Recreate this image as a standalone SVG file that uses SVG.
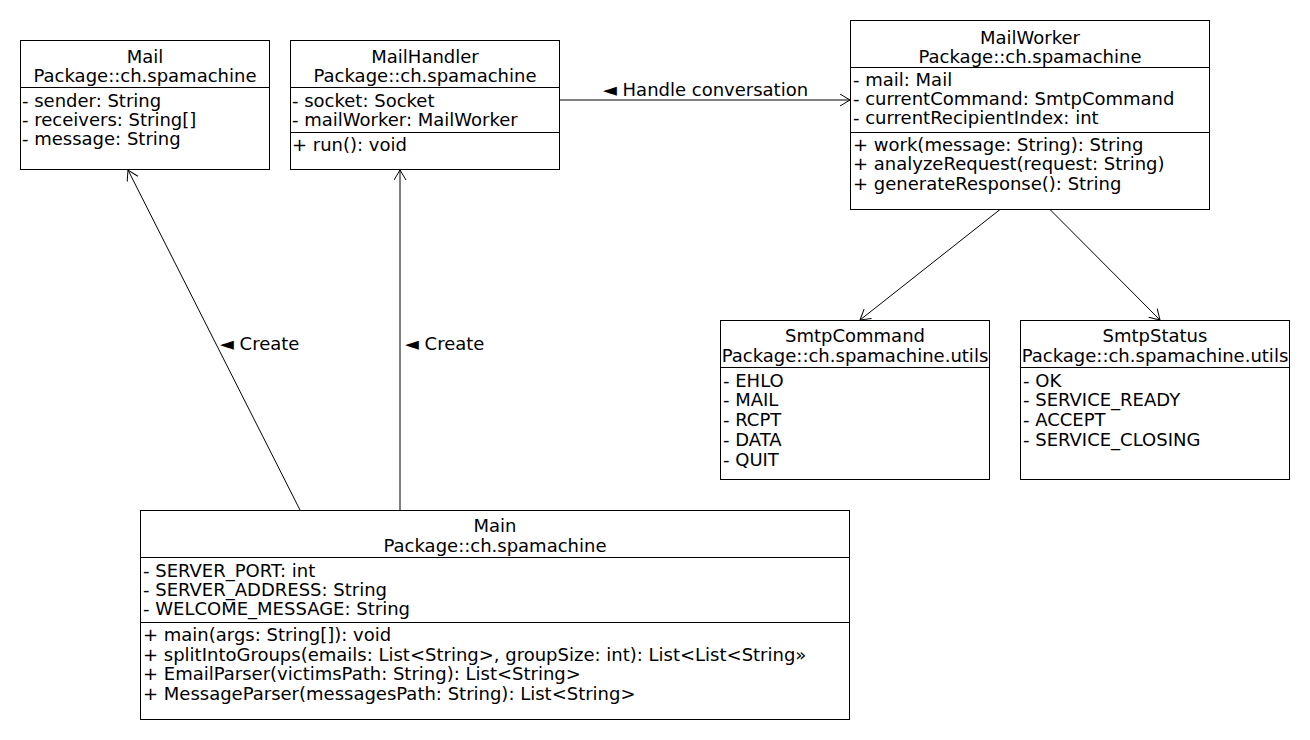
<svg xmlns="http://www.w3.org/2000/svg" width="1310" height="740" viewBox="0 0 1310 740">
<style>
text{font-family:"DejaVu Sans","Liberation Sans",sans-serif;font-size:18px;fill:#000}
.c{text-anchor:middle}
.box{fill:#fff;stroke:#000;stroke-width:1}
.div{stroke:#000;stroke-width:1}
.edge{fill:none;stroke:#000;stroke-width:1}
</style>
<defs>
<marker id="open" markerUnits="userSpaceOnUse" markerWidth="14" markerHeight="14" refX="11" refY="6.5" orient="auto">
<path d="M1,0.5 L11,6.5 L1,12.5" fill="none" stroke="#000" stroke-width="1"/>
</marker>
</defs>
<rect width="1310" height="740" fill="#fff"/>
<g id="connectors">
<line class="edge" x1="300" y1="510" x2="128" y2="170" marker-end="url(#open)"/>
<line class="edge" x1="400" y1="510" x2="400" y2="170" marker-end="url(#open)"/>
<line class="edge" x1="559.5" y1="100" x2="850" y2="100" marker-end="url(#open)"/>
<line class="edge" x1="1000" y1="209.5" x2="860" y2="320" marker-end="url(#open)"/>
<line class="edge" x1="1050" y1="209.5" x2="1160" y2="320" marker-end="url(#open)"/>
<text x="220" y="350">◄ Create</text>
<text x="405" y="350">◄ Create</text>
<text x="603" y="96">◄ Handle conversation</text>
</g>
<g id="Mail">
<rect class="box" x="20.5" y="40.5" width="249" height="129"/>
<text class="c" x="145" y="63">Mail</text>
<text class="c" x="145" y="82">Package::ch.spamachine</text>
<line class="div" x1="20.5" y1="87.5" x2="269.5" y2="87.5"/>
<text x="22" y="107">- sender: String</text>
<text x="22" y="126">- receivers: String[]</text>
<text x="22" y="145">- message: String</text>
</g>
<g id="MailHandler">
<rect class="box" x="290.5" y="40.5" width="269" height="129"/>
<text class="c" x="425" y="63">MailHandler</text>
<text class="c" x="425" y="82">Package::ch.spamachine</text>
<line class="div" x1="290.5" y1="87.5" x2="559.5" y2="87.5"/>
<text x="292" y="107">- socket: Socket</text>
<text x="292" y="126">- mailWorker: MailWorker</text>
<line class="div" x1="290.5" y1="132.5" x2="559.5" y2="132.5"/>
<text x="292" y="151">+ run(): void</text>
</g>
<g id="MailWorker">
<rect class="box" x="850.5" y="20.5" width="359" height="189"/>
<text class="c" x="1030" y="44">MailWorker</text>
<text class="c" x="1030" y="63">Package::ch.spamachine</text>
<line class="div" x1="850.5" y1="67.5" x2="1209.5" y2="67.5"/>
<text x="853" y="86">- mail: Mail</text>
<text x="853" y="105">- currentCommand: SmtpCommand</text>
<text x="853" y="124">- currentRecipientIndex: int</text>
<line class="div" x1="850.5" y1="132.5" x2="1209.5" y2="132.5"/>
<text x="853" y="151">+ work(message: String): String</text>
<text x="853" y="170">+ analyzeRequest(request: String)</text>
<text x="853" y="190">+ generateResponse(): String</text>
</g>
<g id="SmtpCommand">
<rect class="box" x="720.5" y="320.5" width="269" height="159"/>
<text class="c" x="855" y="342">SmtpCommand</text>
<text class="c" x="855" y="362">Package::ch.spamachine.utils</text>
<line class="div" x1="720.5" y1="367.5" x2="989.5" y2="367.5"/>
<text x="723" y="387">- EHLO</text>
<text x="723" y="406">- MAIL</text>
<text x="723" y="426">- RCPT</text>
<text x="723" y="446">- DATA</text>
<text x="723" y="466">- QUIT</text>
</g>
<g id="SmtpStatus">
<rect class="box" x="1020.5" y="320.5" width="269" height="159"/>
<text class="c" x="1155" y="342">SmtpStatus</text>
<text class="c" x="1155" y="362">Package::ch.spamachine.utils</text>
<line class="div" x1="1020.5" y1="367.5" x2="1289.5" y2="367.5"/>
<text x="1023" y="387">- OK</text>
<text x="1023" y="406">- SERVICE_READY</text>
<text x="1023" y="426">- ACCEPT</text>
<text x="1023" y="446">- SERVICE_CLOSING</text>
</g>
<g id="Main">
<rect class="box" x="140.5" y="510.5" width="709" height="209"/>
<text class="c" x="495" y="532">Main</text>
<text class="c" x="495" y="552">Package::ch.spamachine</text>
<line class="div" x1="140.5" y1="557.5" x2="849.5" y2="557.5"/>
<text x="143" y="577">- SERVER_PORT: int</text>
<text x="143" y="596">- SERVER_ADDRESS: String</text>
<text x="143" y="615">- WELCOME_MESSAGE: String</text>
<line class="div" x1="140.5" y1="622.5" x2="849.5" y2="622.5"/>
<text x="143" y="641">+ main(args: String[]): void</text>
<text x="143" y="661">+ splitIntoGroups(emails: List&lt;String&gt;, groupSize: int): List&lt;List&lt;String»</text>
<text x="143" y="680">+ EmailParser(victimsPath: String): List&lt;String&gt;</text>
<text x="143" y="700">+ MessageParser(messagesPath: String): List&lt;String&gt;</text>
</g>
</svg>
